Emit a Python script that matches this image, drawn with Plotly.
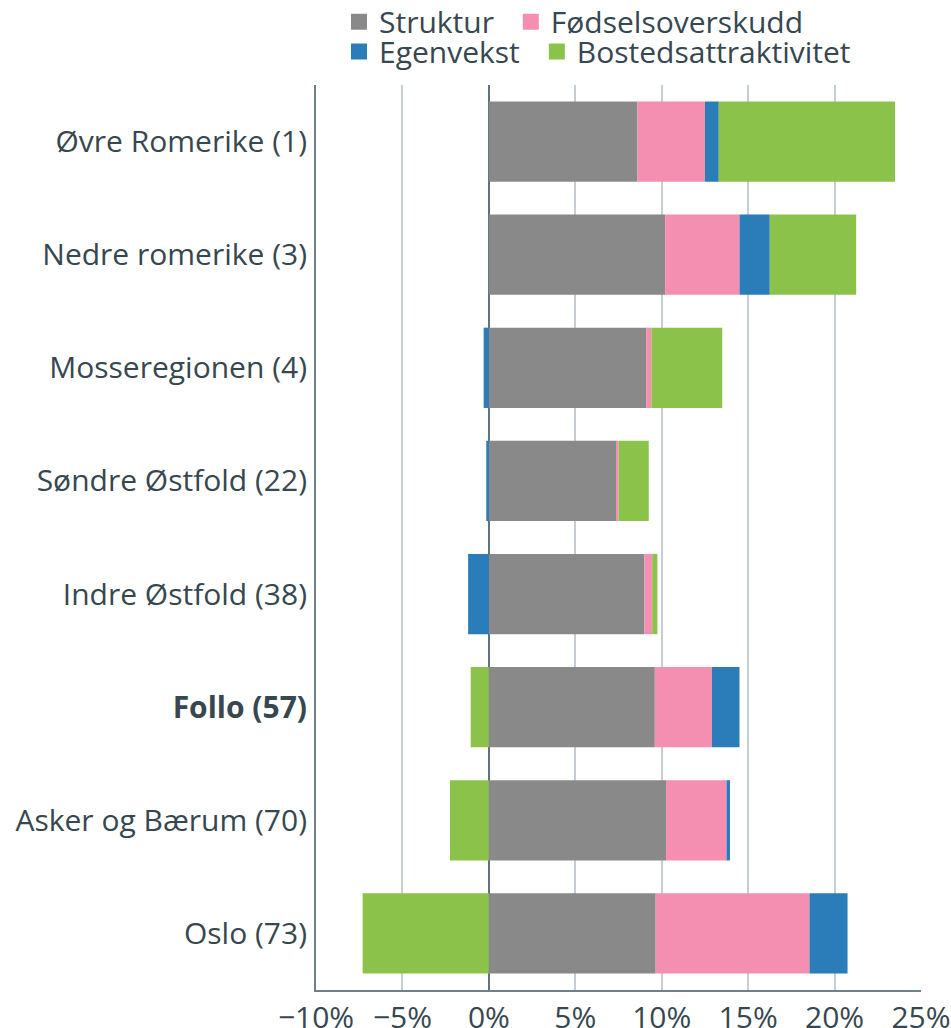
import plotly.graph_objects as go

regions = ["Øvre Romerike (1)", "Nedre romerike (3)", "Mosseregionen (4)", "Søndre Østfold (22)",
           "Indre Østfold (38)", "Follo (57)", "Asker og Bærum (70)", "Oslo (73)"]
bold_region = "Follo (57)"

struktur = [8.6, 10.2, 9.1, 7.4, 9.0, 9.6, 10.25, 9.65]
fodsel = [3.9, 4.3, 0.3, 0.1, 0.45, 3.3, 3.5, 8.9]
egenvekst = [0.8, 1.75, -0.3, -0.15, -1.2, 1.6, 0.2, 2.2]
bosted = [10.2, 5.0, 4.1, 1.75, 0.3, -1.05, -2.25, -7.3]

series_names = ["Struktur", "Fødselsoverskudd", "Egenvekst", "Bostedsattraktivitet"]
series_values = [struktur, fodsel, egenvekst, bosted]
series_colors = ["#898989", "#f48fb1", "#2a7db8", "#8bc34a"]

x_ticks = [-10, -5, 0, 5, 10, 15, 20, 25]
x_ticktext = ["−10%", "−5%", "0%", "5%", "10%", "15%", "20%", "25%"]

TEXT = "#37474f"
FONT = "Open Sans"
FS = 30

# legend placement (paper coords): one legend per series, laid out as in the reference
legend_ids = ["legend", "legend2", "legend3", "legend4"]
legend_pos = [(0.038, 1.070), (0.322, 1.070), (0.038, 1.037), (0.365, 1.037)]

fig = go.Figure()
for name, vals, color in zip(series_names, series_values, series_colors):
    fig.add_trace(go.Bar(y=regions, x=vals, name=name, orientation="h",
                         marker=dict(color=color, line=dict(width=0)), showlegend=False))
for name, color, lid in zip(series_names, series_colors, legend_ids):
    fig.add_trace(go.Scatter(x=[None], y=[None], mode="markers", name=name, legend=lid,
                             marker=dict(symbol="square", size=16, color=color)))

ticktext = [f"<b>{r}</b>" if r == bold_region else r for r in regions]

legends = {}
for lid, (lx, ly) in zip(legend_ids, legend_pos):
    legends[lid] = dict(orientation="h", x=lx, y=ly, xanchor="left", yanchor="middle",
                        font=dict(family=FONT, size=FS, color=TEXT),
                        bgcolor="rgba(0,0,0,0)", itemsizing="trace")

fig.update_layout(
    width=951, height=1028,
    margin=dict(l=316, r=30, t=85, b=38, autoexpand=False),
    barmode="relative", bargap=0.29,
    plot_bgcolor="white", paper_bgcolor="white",
    font=dict(family=FONT, size=FS, color=TEXT),
    xaxis=dict(range=[-10, 25], tickvals=x_ticks, ticktext=x_ticktext, automargin=False,
               showgrid=True, gridcolor="#c5ced4", gridwidth=1.5,
               zeroline=True, zerolinecolor="#5f737f", zerolinewidth=2,
               showline=True, linecolor="#6f808b", linewidth=2,
               ticks="", tickfont=dict(family=FONT, size=FS, color=TEXT), fixedrange=True),
    yaxis=dict(categoryorder="array", categoryarray=regions, autorange="reversed",
               tickvals=regions, ticktext=ticktext, automargin=False,
               showline=True, linecolor="#6f808b", linewidth=2, showgrid=False,
               ticks="", ticklabelstandoff=1,
               tickfont=dict(family=FONT, size=FS, color=TEXT)),
    **legends,
)

fig.write_html("out.html", config={"displayModeBar": False},
               post_script="document.body.style.margin='0';document.body.style.overflow='hidden';")
